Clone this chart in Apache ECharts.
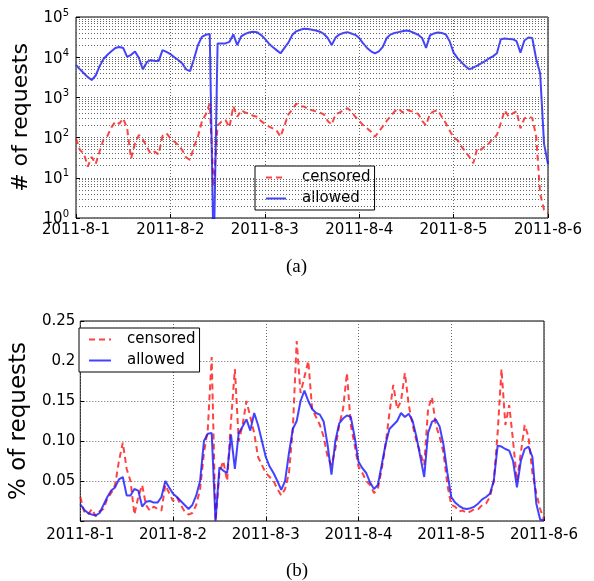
<!DOCTYPE html>
<html>
<head>
<meta charset="utf-8">
<script src="https://cdn.jsdelivr.net/npm/echarts@6/dist/echarts.min.js"></script>
<style>html,body{margin:0;padding:0;background:#fff;}#c{width:594px;height:581px;}</style>
</head>
<body>
<div id="c"></div>
<script>
// x = hours since 2011-8-1 00:00, one sample per hour
const dayLabels = ['2011-8-1','2011-8-2','2011-8-3','2011-8-4','2011-8-5','2011-8-6'];
const pctTickLabels = ['', '0.05', '0.10', '0.15', '0.2', '0.25'];
const seriesNames = ['censored', 'allowed'];

// panel (a): number of requests per hour
const allowedCount = [
 6400,5000,4000,3200,2700,3500,6000,9000,11500,14000,17000,18000,17000,10200,11500,13800,9500,5000,7500,8500,8000,8000,15000,13500,
 12000,10000,8500,7000,5000,4500,9000,20000,32000,36000,38000,0.1,22000,22000,22000,24000,37000,20000,33000,38000,41000,43000,42000,36000,
 29000,22000,18000,15000,12500,17000,23000,36000,44000,48000,51000,50000,48000,46000,43000,38000,30000,20000,31000,37000,40000,42000,39000,36000,
 30000,22000,17000,14000,12500,14000,18000,30000,37000,40000,42000,44000,46000,44000,40000,36000,30000,17000,35000,39000,41000,40000,37000,25000,
 13000,9500,7500,6000,5000,5500,6200,7000,8000,9300,10500,12500,28000,29000,28500,28000,25000,13000,26000,31000,30000,9000,4000,70,22
];
const censoredCount = [
 96,49,40,19,33,22,45,90,110,180,250,220,300,170,30,72,116,90,59,40,45,38,110,128,
 96,80,65,49,32,28,60,105,250,380,700,6,200,250,275,180,600,330,480,420,400,350,330,260,
 220,190,170,150,105,200,380,500,700,600,590,520,480,450,420,380,260,210,380,420,480,540,450,330,
 260,205,170,140,105,140,190,260,340,450,530,420,500,460,430,390,260,200,400,450,480,330,230,150,
 100,87,60,45,33,23,54,50,62,72,95,116,230,480,330,400,450,170,300,330,310,105,4,1.6,1.3
];

// panel (b): percentage of requests
const allowedPct = [
 0.021,0.014,0.010,0.008,0.007,0.010,0.020,0.030,0.038,0.042,0.052,0.055,0.032,0.032,0.040,0.038,0.018,0.024,0.025,0.023,0.023,0.030,0.050,0.042,
 0.034,0.030,0.025,0.020,0.015,0.020,0.032,0.050,0.100,0.109,0.110,0.000,0.067,0.063,0.060,0.108,0.065,0.110,0.118,0.127,0.113,0.135,0.120,0.100,
 0.080,0.068,0.060,0.050,0.039,0.050,0.085,0.115,0.125,0.150,0.163,0.150,0.140,0.135,0.133,0.124,0.095,0.058,0.100,0.122,0.128,0.132,0.130,0.105,
 0.074,0.066,0.060,0.048,0.040,0.045,0.070,0.096,0.115,0.120,0.125,0.135,0.130,0.134,0.125,0.105,0.080,0.055,0.110,0.124,0.127,0.118,0.095,0.060,
 0.030,0.023,0.019,0.016,0.015,0.016,0.018,0.022,0.027,0.030,0.034,0.050,0.094,0.093,0.090,0.088,0.075,0.042,0.075,0.090,0.093,0.080,0.022,0.002,0.001
];
const censoredPct = [
 0.030,0.012,0.008,0.015,0.006,0.012,0.015,0.028,0.035,0.045,0.075,0.098,0.065,0.050,0.008,0.030,0.045,0.020,0.013,0.018,0.015,0.013,0.045,0.035,
 0.025,0.030,0.020,0.012,0.008,0.010,0.020,0.040,0.085,0.115,0.205,0.000,0.060,0.075,0.050,0.125,0.190,0.100,0.120,0.150,0.130,0.110,0.080,0.070,
 0.060,0.055,0.050,0.040,0.032,0.040,0.060,0.115,0.225,0.160,0.180,0.200,0.140,0.130,0.120,0.105,0.080,0.070,0.090,0.120,0.140,0.185,0.120,0.095,
 0.068,0.060,0.050,0.045,0.035,0.040,0.065,0.095,0.135,0.170,0.140,0.150,0.185,0.145,0.120,0.100,0.085,0.070,0.140,0.155,0.120,0.105,0.085,0.045,
 0.020,0.018,0.012,0.013,0.010,0.012,0.015,0.015,0.020,0.022,0.030,0.050,0.110,0.190,0.120,0.145,0.100,0.050,0.085,0.120,0.105,0.060,0.035,0.015,0.002
];

const FONT = 'DejaVu Sans';
const RED = 'rgba(255,20,20,0.8)';
const BLUE = 'rgba(20,20,255,0.8)';
const GRIDLINE = {color: '#666', width: 1, type: [1, 2]};

const pairs = arr => arr.map((v, i) => [i, v]);

// minor log grid levels 2..9 x 10^k
const minorLevels = [];
for (let k = 0; k < 5; k++) for (let m = 2; m <= 9; m++) minorLevels.push({yAxis: m * Math.pow(10, k)});

const xAxisBase = (gi) => ({
  type: 'value', gridIndex: gi, min: 0, max: 120, interval: 24,
  axisLine: {show: false},
  axisTick: {show: true, inside: true, length: 4, lineStyle: {color: '#000'}},
  axisLabel: {interval: 0, color: '#000', fontFamily: FONT, fontSize: 15, margin: gi === 0 ? 5 : 7,
    formatter: v => dayLabels[Math.round(v / 24)]},
  splitLine: {show: true, lineStyle: GRIDLINE}
});

const legendBase = {
  data: seriesNames, orient: 'vertical', itemHeight: 14, itemGap: 6,
  borderColor: '#000', borderWidth: 1, backgroundColor: '#fff', borderRadius: 0,
  itemStyle: {color: 'rgba(0,0,0,0)', borderColor: 'rgba(0,0,0,0)', borderWidth: 0},
  textStyle: {fontFamily: FONT, fontSize: 15, color: '#000', padding: [0, 0, 0, 11]}
};

const chart = echarts.init(document.getElementById('c'), null, {renderer: 'canvas'});
chart.setOption({
  animation: false,
  backgroundColor: '#fff',
  grid: [
    {left: 76, top: 17, width: 472, height: 201, show: true, borderColor: '#000', borderWidth: 1, backgroundColor: 'transparent'},
    {left: 73, top: 321, width: 471, height: 200, show: true, borderColor: '#000', borderWidth: 1, backgroundColor: 'transparent'}
  ],
  xAxis: [xAxisBase(0), xAxisBase(1)],
  yAxis: [
    {type: 'log', logBase: 10, gridIndex: 0, min: 1, max: 100000,
     name: '# of requests', nameLocation: 'middle', nameRotate: 90, nameGap: 41,
     nameTextStyle: {fontFamily: FONT, fontSize: 22, color: '#000'},
     axisLine: {show: false},
     axisTick: {show: true, inside: true, length: 4, lineStyle: {color: '#000'}},
     axisLabel: {margin: 7, color: '#000',
       formatter: v => '{b|10}{s|' + Math.round(Math.log10(v)) + '}',
       rich: {b: {fontFamily: FONT, fontSize: 15, color: '#000', verticalAlign: 'bottom', lineHeight: 18},
              s: {fontFamily: FONT, fontSize: 10, color: '#000', verticalAlign: 'top', lineHeight: 18}}},
     splitLine: {show: true, lineStyle: GRIDLINE}},
    {type: 'value', gridIndex: 1, min: 0, max: 0.25, interval: 0.05,
     name: '% of requests', nameLocation: 'middle', nameRotate: 90, nameGap: 44,
     nameTextStyle: {fontFamily: FONT, fontSize: 23, color: '#000'},
     axisLine: {show: false},
     axisTick: {show: true, inside: true, length: 4, lineStyle: {color: '#000'}},
     axisLabel: {margin: 5, color: '#000', fontFamily: FONT, fontSize: 15,
       formatter: v => pctTickLabels[Math.round(v / 0.05)]},
     splitLine: {show: true, lineStyle: GRIDLINE}}
  ],
  legend: [
    Object.assign({}, legendBase, {left: 255, top: 166, itemWidth: 20, padding: [4, 4, 4, 10]}),
    Object.assign({}, legendBase, {left: 79, top: 328, itemWidth: 22, padding: [4, 4, 4, 9]})
  ],
  graphic: [
    {type: 'text', left: 286, top: 258, style: {text: '(a)', font: '19px "Liberation Serif"', fill: '#000'}},
    {type: 'text', left: 286, top: 562, style: {text: '(b)', font: '19px "Liberation Serif"', fill: '#000'}}
  ],
  series: [
    {name: 'censored', type: 'line', xAxisIndex: 0, yAxisIndex: 0, data: pairs(censoredCount),
     symbol: 'none', color: RED, lineStyle: {color: RED, width: 2, type: [6, 4]}, clip: true,
     markLine: {silent: true, symbol: ['none', 'none'], label: {show: false},
       lineStyle: GRIDLINE, data: minorLevels}},
    {name: 'allowed', type: 'line', xAxisIndex: 0, yAxisIndex: 0, data: pairs(allowedCount),
     symbol: 'none', color: BLUE, lineStyle: {color: BLUE, width: 2}, clip: true},
    {name: 'censored', type: 'line', xAxisIndex: 1, yAxisIndex: 1, data: pairs(censoredPct),
     symbol: 'none', color: RED, lineStyle: {color: RED, width: 2, type: [6, 4]}, clip: true},
    {name: 'allowed', type: 'line', xAxisIndex: 1, yAxisIndex: 1, data: pairs(allowedPct),
     symbol: 'none', color: BLUE, lineStyle: {color: BLUE, width: 2}, clip: true}
  ]
});
</script>
</body>
</html>
